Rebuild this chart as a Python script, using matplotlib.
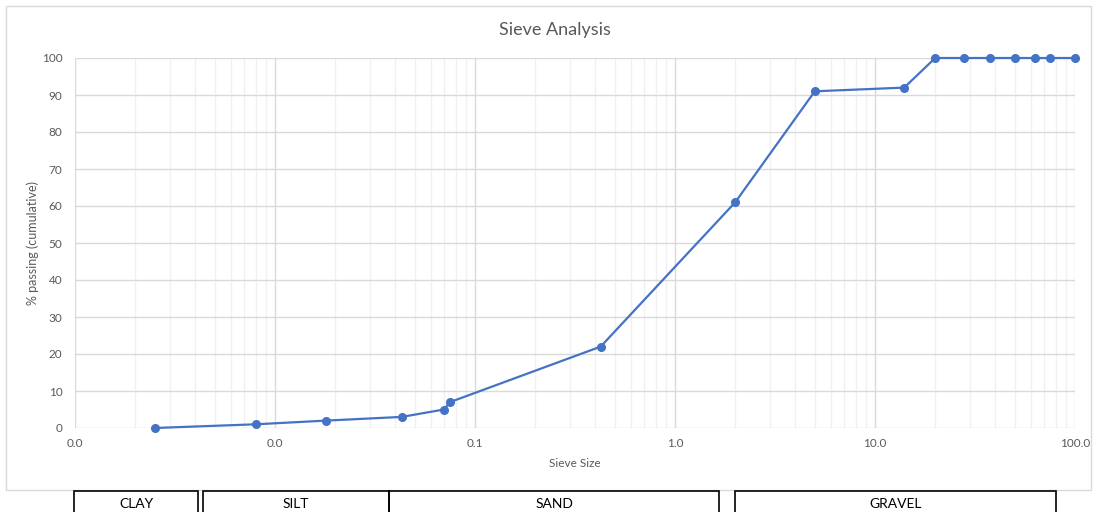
import matplotlib.pyplot as plt
from matplotlib.patches import Rectangle
from matplotlib.ticker import FixedLocator, LogLocator, NullFormatter

plt.rcParams["font.family"] = ["Lato", "DejaVu Sans"]

# Grain size (mm) and cumulative percent passing
sieve_size = [0.0025, 0.008, 0.018, 0.043, 0.07, 0.075, 0.425, 2.0, 5.0,
              14.0, 20.0, 28.0, 37.5, 50.0, 63.0, 75.0, 100.0]
pct_passing = [0, 1, 2, 3, 5, 7, 22, 61, 91, 92, 100, 100, 100, 100, 100, 100, 100]

x_ticks = [0.001, 0.01, 0.1, 1.0, 10.0, 100.0]
y_ticks = list(range(0, 101, 10))

# Soil classification bands shown beneath the chart (figure pixels: left, right)
soil_classes = ["CLAY", "SILT", "SAND", "GRAVEL"]
class_spans = [(74, 198), (203, 389), (389, 719), (735, 1056)]

W, H = 1094, 512
fig = plt.figure(figsize=(W / 100, H / 100), dpi=100)

# outer chart frame
fig.patches.append(Rectangle((5.5 / W, (H - 489.5) / H), 1085 / W, 484 / H,
                             transform=fig.transFigure, fill=False,
                             edgecolor="#d9d9d9", linewidth=1))

ax = fig.add_axes([75 / W, (H - 428) / H, 1000 / W, 370 / H])
ax.set_xscale("log")
ax.set_xlim(0.001, 100)
ax.set_ylim(0, 100)

ax.xaxis.set_major_locator(FixedLocator(x_ticks))
ax.xaxis.set_minor_locator(LogLocator(base=10, subs=range(2, 10)))
ax.xaxis.set_minor_formatter(NullFormatter())
ax.set_xticklabels([f"{t:.1f}" for t in x_ticks])
ax.set_yticks(y_ticks)

ax.grid(which="major", color="#d9d9d9", linewidth=1)
ax.grid(which="minor", axis="x", color="#f0f0f0", linewidth=1)
ax.set_axisbelow(True)
for s in ax.spines.values():
    s.set_visible(False)
ax.tick_params(which="both", length=0, colors="#595959", labelsize=8.5)
ax.tick_params(axis="x", pad=7)
ax.tick_params(axis="y", pad=9)

ax.plot(sieve_size, pct_passing, color="#4472c4", linewidth=1.6,
        marker="o", markersize=5.5, clip_on=False, zorder=3)

fig.text(555 / W, (H - 30) / H, "Sieve Analysis", ha="center", va="center",
         fontsize=13, color="#595959")
ax.set_xlabel("Sieve Size", fontsize=8.5, color="#595959", labelpad=7)
ax.set_ylabel("% passing (cumulative)", fontsize=9, color="#595959", labelpad=2)

# classification boxes along the bottom edge
for name, (x0, x1) in zip(soil_classes, class_spans):
    fig.patches.append(Rectangle((x0 / W, -10 / H), (x1 - x0) / W, (H - 491 + 10) / H,
                                 transform=fig.transFigure, fill=False,
                                 edgecolor="black", linewidth=1.2))
    fig.text((x0 + x1) / 2 / W, (H - 504) / H, name, ha="center", va="center",
             fontsize=10, color="black")

fig.savefig("out.png", dpi=100, facecolor="white")
